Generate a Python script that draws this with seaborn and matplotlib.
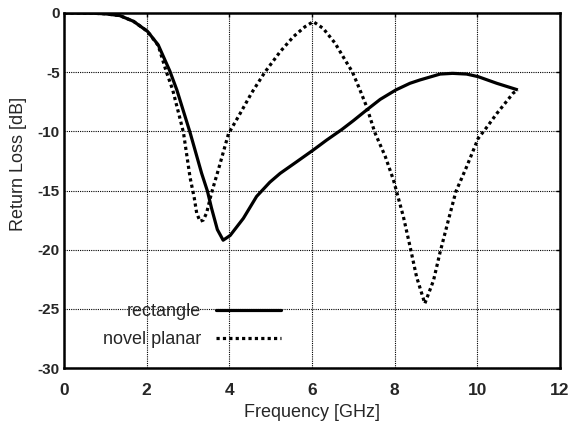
import numpy as np
import pandas as pd
import matplotlib
matplotlib.use("Agg")
import matplotlib.pyplot as plt
import seaborn as sns

# ---- data ----
rect_freq = [0.0, 0.7, 1.0, 1.35, 1.68, 2.02, 2.28, 2.56, 2.73, 3.05, 3.33, 3.47, 3.57, 3.71,
             3.85, 4.02, 4.34, 4.66, 4.98, 5.23, 5.63, 6.03, 6.35, 6.72, 7.0, 7.32, 7.65,
             8.03, 8.37, 8.61, 9.1, 9.4, 9.74, 10.02, 10.47, 10.98]
rect_rl = [0.0, -0.02, -0.07, -0.22, -0.7, -1.55, -2.7, -4.9, -6.5, -10.1, -13.55, -15.05,
           -16.5, -18.3, -19.2, -18.8, -17.35, -15.5, -14.3, -13.55, -12.57, -11.58, -10.75,
           -9.85, -9.1, -8.2, -7.3, -6.5, -5.94, -5.66, -5.16, -5.1, -5.16, -5.38, -5.94, -6.5]

planar_freq = [0.0, 0.7, 1.0, 1.35, 1.68, 2.02, 2.28, 2.47, 2.63, 2.79, 2.89, 2.97, 3.05, 3.15,
               3.21, 3.29, 3.37, 3.45, 3.57, 3.73, 3.98, 4.26, 4.54, 4.86, 5.23, 5.55, 5.83,
               6.03, 6.27, 6.56, 6.8, 6.98, 7.16, 7.32, 7.52, 7.77, 7.97, 8.21, 8.37, 8.53,
               8.73, 8.94, 9.1, 9.3, 9.48, 9.74, 10.02, 10.24, 10.47, 10.87, 10.98]
planar_rl = [0.0, -0.02, -0.07, -0.22, -0.7, -1.55, -2.75, -4.9, -6.5, -8.7, -10.1, -12.0,
             -13.9, -15.6, -16.9, -17.6, -17.5, -16.9, -15.2, -13.3, -10.2, -8.5, -6.75, -5.0,
             -3.27, -2.0, -1.16, -0.73, -1.3, -2.56, -3.97, -5.0, -6.5, -7.9, -10.1, -12.1,
             -14.1, -17.2, -19.7, -22.3, -24.55, -22.6, -20.2, -17.5, -15.1, -13.0, -10.6,
             -9.6, -8.5, -6.76, -6.5]

x_ticks = [0, 2, 4, 6, 8, 10, 12]
y_ticks = [-30, -25, -20, -15, -10, -5, 0]
x_label = "Frequency [GHz]"
y_label = "Return Loss [dB]"
series_names = ["rectangle", "novel planar"]

df = pd.concat([
    pd.DataFrame({"freq": rect_freq, "rl": rect_rl, "series": series_names[0]}),
    pd.DataFrame({"freq": planar_freq, "rl": planar_rl, "series": series_names[1]}),
], ignore_index=True)

sns.set_style("white")
plt.rcParams["font.family"] = ["Liberation Sans", "DejaVu Sans"]

fig = plt.figure(figsize=(5.73, 4.26), dpi=100)
ax = fig.add_axes([64 / 573, 58 / 426, 496 / 573, 355 / 426])

sns.lineplot(data=df, x="freq", y="rl", hue="series", style="series",
             palette={series_names[0]: "black", series_names[1]: "black"},
             dashes={series_names[0]: "", series_names[1]: (1, 1)},
             linewidth=2.3, ax=ax, sort=False)

for ln in ax.get_lines()[:2]:
    ln.set_solid_capstyle("butt")
    ln.set_solid_joinstyle("round")

ax.set_xlim(0, 12)
ax.set_ylim(-30, 0)
ax.set_xticks(x_ticks)
ax.set_yticks(y_ticks)
ax.set_xticklabels([str(t) for t in x_ticks], fontsize=12.5, fontweight="bold")
ax.set_yticklabels([str(t) for t in y_ticks], fontsize=11, fontweight="bold")
ax.tick_params(axis="both", direction="in", length=3, width=1, color="black", pad=3)
ax.tick_params(axis="x", pad=11)
ax.tick_params(top=True, right=True, labeltop=False, labelright=False)

ax.grid(True, color="black", linestyle=(0, (1, 1)), linewidth=0.8)
for s in ax.spines.values():
    s.set_visible(True)
    s.set_color("black")
    s.set_linewidth(1.8)

ax.set_xlabel(x_label, fontsize=13, labelpad=4)
ax.set_ylabel(y_label, fontsize=13)
ax.yaxis.set_label_coords(-0.075, 0.575)

handles, labels = ax.get_legend_handles_labels()
leg = ax.legend(handles, labels, loc="upper left", bbox_to_anchor=(0.079, 0.182),
                frameon=False, markerfirst=False, fontsize=13, handlelength=3.6,
                handletextpad=0.8, labelspacing=0.6, borderpad=0, borderaxespad=0)

fig.savefig("out.png", dpi=100)
